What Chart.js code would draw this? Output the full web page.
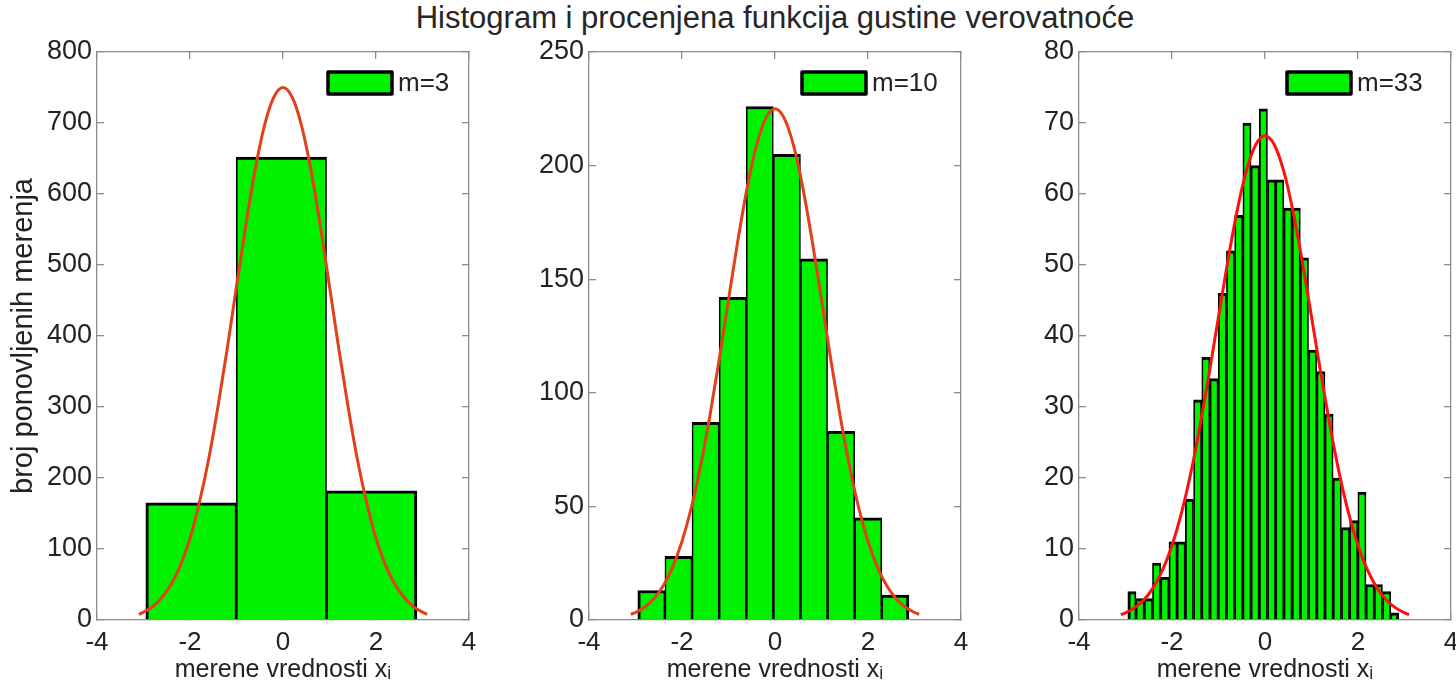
<!DOCTYPE html>
<html>
<head>
<meta charset="utf-8">
<script src="https://cdn.jsdelivr.net/npm/chart.js@4.4.1/dist/chart.umd.min.js"></script>
<style>
  html, body { margin: 0; padding: 0; background: #fff; width: 1456px; height: 695px; overflow: hidden; }
  .panel { position: absolute; top: 0; height: 695px; }
  #title {
    position: absolute; left: 275px; width: 1000px; top: 0;
    text-align: center; white-space: nowrap;
    font: 31px 'Liberation Sans', Arial, sans-serif; line-height: 36px; color: #262626;
  }
</style>
</head>
<body>
<div id="title">Histogram i procenjena funkcija gustine verovatnoće</div>
<div class="panel" style="left:0px;width:480px"><canvas id="c1" width="480" height="695"></canvas></div>
<div class="panel" style="left:490px;width:480px"><canvas id="c2" width="480" height="695"></canvas></div>
<div class="panel" style="left:976px;width:480px"><canvas id="c3" width="480" height="695"></canvas></div>

<script>
// ---- data -------------------------------------------------------------
// histogram with 3 bins
const centersM3 = [-1.978, -0.035, 1.908];
const countsM3  = [165, 652, 182];

// histogram with 10 bins
const centersM10 = [-2.659, -2.076, -1.493, -0.910, -0.327, 0.256, 0.839, 1.422, 2.005, 2.588];
const countsM10  = [13, 28, 87, 142, 226, 205, 159, 83, 45, 11];

// histogram with 33 bins
const centersM33 = [-2.862, -2.685, -2.508, -2.332, -2.155, -1.978, -1.802, -1.625, -1.448, -1.272,
                    -1.095, -0.918, -0.742, -0.565, -0.388, -0.212, -0.035, 0.142, 0.318, 0.495,
                    0.672, 0.848, 1.025, 1.202, 1.378, 1.555, 1.732, 1.908, 2.085, 2.262,
                    2.438, 2.615, 2.792];
const countsM33  = [4, 3, 3, 8, 6, 11, 11, 17, 31, 37,
                    34, 46, 52, 57, 70, 64, 72, 62, 62, 58,
                    58, 51, 38, 35, 29, 20, 13, 14, 18, 5,
                    5, 4, 1];

// estimated density curve, scaled to each histogram
const curveX   = [-3.1, -3.0, -2.8, -2.6, -2.4, -2.2, -2.0, -1.8, -1.6, -1.4, -1.2, -1.0, -0.8, -0.6, -0.4, -0.2,
                  0, 0.2, 0.4, 0.6, 0.8, 1.0, 1.2, 1.4, 1.6, 1.8, 2.0, 2.2, 2.4, 2.6, 2.8, 3.0, 3.1];
const curveM3  = [8, 11, 19, 32, 51, 78, 115, 165, 226, 300, 382, 470, 556, 634, 696, 736,
                  750, 736, 696, 634, 556, 470, 382, 300, 226, 165, 115, 78, 51, 32, 19, 11, 8];
const curveM10 = [2.5, 3.3, 5.7, 9.5, 15.2, 23.4, 34.6, 49.4, 67.9, 89.9, 114.7, 140.9, 166.8, 190.1, 208.8, 220.8,
                  225, 220.8, 208.8, 190.1, 166.8, 140.9, 114.7, 89.9, 67.9, 49.4, 34.6, 23.4, 15.2, 9.5, 5.7, 3.3, 2.5];
const curveM33 = [0.76, 1.01, 1.74, 2.88, 4.6, 7.08, 10.49, 14.97, 20.58, 27.26, 34.76, 42.71, 50.55, 57.63, 63.28, 66.94,
                  68.2, 66.94, 63.28, 57.63, 50.55, 42.71, 34.76, 27.26, 20.58, 14.97, 10.49, 7.08, 4.6, 2.88, 1.74, 1.01, 0.76];

// axis ticks
const xTickValues  = [-4, -2, 0, 2, 4];
const yTicksM3     = [0, 100, 200, 300, 400, 500, 600, 700, 800];
const yTicksM10    = [0, 50, 100, 150, 200, 250];
const yTicksM33    = [0, 10, 20, 30, 40, 50, 60, 70, 80];

// text
const legendLabels = ['m=3', 'm=10', 'm=33'];
const xAxisTitle = 'merene vrednosti xᵢ';
const yAxisTitle = 'broj ponovljenih merenja';

// ---- styling -----------------------------------------------------------
const FONT = "'Liberation Sans', Arial, 'DejaVu Sans', sans-serif";
const TEXT = '#222222';
const AXIS = '#8c8c8c';
const GREEN = '#00f200';

Chart.defaults.font.family = FONT;
Chart.defaults.color = TEXT;

// Legend entry (patch + label) drawn in the upper right corner of the plot area
const histLegend = {
  id: 'histLegend',
  afterDatasetsDraw(chart, args, opts) {
    const ds = chart.data.datasets.find(d => d.type === 'bar');
    const { ctx, chartArea } = chart;
    const x = chartArea.right - opts.offsetRight;
    const y = chartArea.top + opts.offsetTop;
    const w = 64, h = 22;
    ctx.save();
    ctx.fillStyle = ds.backgroundColor;
    ctx.fillRect(x, y, w, h);
    ctx.lineWidth = 3.5;
    ctx.lineJoin = 'round';
    ctx.strokeStyle = '#000';
    ctx.strokeRect(x, y, w, h);
    ctx.font = '26px ' + FONT;
    ctx.fillStyle = TEXT;
    ctx.textBaseline = 'middle';
    ctx.textAlign = 'left';
    ctx.fillText(ds.label, x + w + 6, y + h / 2 + 1);
    ctx.restore();
  }
};

function makePanel(id, cfg) {
  const n = cfg.centers.length;
  const fixedTicks = vals => (scale => { scale.ticks = vals.map(v => ({ value: v })); });
  const noPad = s => { s.paddingLeft = 0; s.paddingRight = 0; s.paddingTop = 0; s.paddingBottom = 0; };
  const gridOpts = { drawOnChartArea: false, drawTicks: true, tickLength: -7, color: AXIS, lineWidth: 1.3 };
  const borderOpts = { display: true, color: AXIS, width: 1.3 };

  return new Chart(document.getElementById(id), {
    type: 'bar',
    plugins: [histLegend],
    data: {
      datasets: [
        {
          type: 'line',
          order: 0,
          data: curveX.map((x, i) => ({ x, y: cfg.curve[i] })),
          borderColor: cfg.curveColor,
          borderWidth: 3,
          pointRadius: 0,
          cubicInterpolationMode: 'monotone',
          fill: false
        },
        {
          type: 'bar',
          order: 1,
          label: cfg.label,
          data: cfg.centers.map((x, i) => ({ x, y: cfg.counts[i] })),
          backgroundColor: GREEN,
          borderColor: '#000',
          borderSkipped: false,
          borderWidth: ctx => ({
            top: 3,
            bottom: 0,
            left: ctx.dataIndex === 0 ? 3 : cfg.edge,
            right: ctx.dataIndex === n - 1 ? 3 : cfg.edge
          }),
          barPercentage: 1,
          categoryPercentage: 1,
          grouped: false
        }
      ]
    },
    options: {
      responsive: false,
      animation: false,
      devicePixelRatio: 1,
      events: [],
      layout: { padding: { top: 52, left: 0, right: cfg.padRight, bottom: 0 } },
      plugins: {
        title: { display: false },
        tooltip: { enabled: false },
        legend: { display: false },
        histLegend: { offsetRight: cfg.legendRight, offsetTop: 20 }
      },
      scales: {
        x: {
          type: 'linear', position: 'bottom', min: -4, max: 4, offset: false,
          afterBuildTicks: fixedTicks(xTickValues),
          afterFit: s => { s.height = 75; noPad(s); },
          grid: Object.assign({ offset: false }, gridOpts),
          border: borderOpts,
          ticks: { autoSkip: false, maxRotation: 0, padding: 14, font: { size: 26 }, color: TEXT },
          title: { display: true, text: xAxisTitle, font: { size: 25 }, color: TEXT, padding: { top: 0, bottom: 10 } }
        },
        x2: {
          type: 'linear', position: 'top', min: -4, max: 4, offset: false,
          afterBuildTicks: fixedTicks(xTickValues),
          afterFit: s => { s.height = 0; noPad(s); },
          grid: Object.assign({ offset: false }, gridOpts),
          border: borderOpts,
          ticks: { display: false }
        },
        y: {
          type: 'linear', position: 'left', min: 0, max: cfg.yMax,
          afterBuildTicks: fixedTicks(cfg.yTicks),
          afterFit: s => { s.width = cfg.yWidth; noPad(s); },
          grid: gridOpts,
          border: borderOpts,
          ticks: { padding: 12, font: { size: 27 }, color: TEXT },
          title: { display: cfg.showYTitle, text: yAxisTitle, font: { size: 29 }, color: TEXT, padding: { top: 7, bottom: 0 } }
        },
        y2: {
          type: 'linear', position: 'right', min: 0, max: cfg.yMax,
          afterBuildTicks: fixedTicks(cfg.yTicks),
          afterFit: s => { s.width = 0; noPad(s); },
          grid: gridOpts,
          border: borderOpts,
          ticks: { display: false }
        }
      }
    }
  });
}

makePanel('c1', {
  centers: centersM3, counts: countsM3, curve: curveM3, curveColor: '#e0401a',
  label: legendLabels[0], yMax: 800, yTicks: yTicksM3, yWidth: 97, padRight: 11,
  showYTitle: true, legendRight: 141, edge: 1.7
});
makePanel('c2', {
  centers: centersM10, counts: countsM10, curve: curveM10, curveColor: '#e0401a',
  label: legendLabels[1], yMax: 250, yTicks: yTicksM10, yWidth: 99, padRight: 9,
  showYTitle: false, legendRight: 159, edge: 1.6
});
makePanel('c3', {
  centers: centersM33, counts: countsM33, curve: curveM33, curveColor: '#ff1010',
  label: legendLabels[2], yMax: 80, yTicks: yTicksM33, yWidth: 103, padRight: 5,
  showYTitle: false, legendRight: 164, edge: 1.75
});
</script>
</body>
</html>
